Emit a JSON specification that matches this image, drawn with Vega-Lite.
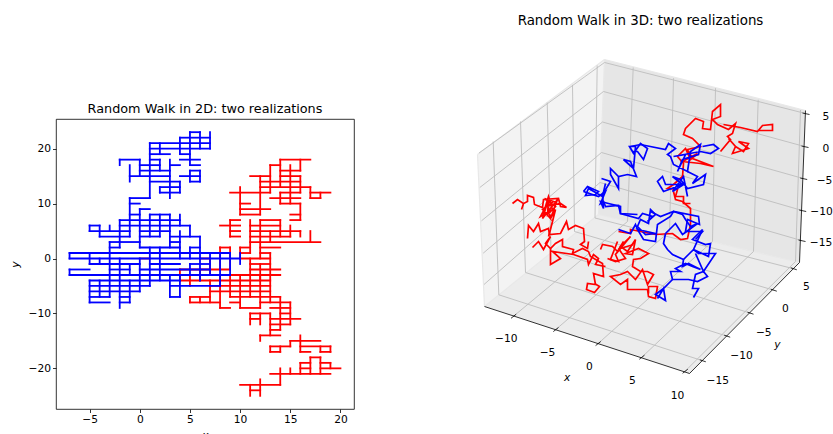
{"$schema":"https://vega.github.io/schema/vega-lite/v6.json","background":"white","padding":{"left":8,"top":13,"right":0,"bottom":0},"bounds":"flush","spacing":116.5,"config":{"view":{"stroke":"black","strokeWidth":0.8},"font":"DejaVu Sans","title":{"font":"DejaVu Sans","fontSize":12.8,"fontWeight":"normal","color":"black"},"axis":{"labelFont":"DejaVu Sans","titleFont":"DejaVu Sans","labelFontSize":10.67,"titleFontSize":10.67,"titleFontStyle":"italic","titleFontWeight":"normal","labelColor":"black","titleColor":"black","tickColor":"black","tickSize":3.5,"tickWidth":0.8,"domain":false,"grid":false,"labelFlush":false}},
"datasets":{
"rh":[{"y":18,"a":14,"b":17},{"y":17,"a":13,"b":14},{"y":16,"a":14,"b":16},{"y":15,"a":11,"b":13},{"y":15,"a":14,"b":16},{"y":14,"a":12,"b":16},{"y":13,"a":12,"b":17},{"y":12,"a":9,"b":13},{"y":12,"a":14,"b":16},{"y":12,"a":17,"b":19},{"y":11,"a":13,"b":16},{"y":11,"a":17,"b":18},{"y":10,"a":10,"b":11},{"y":10,"a":14,"b":16},{"y":9,"a":10,"b":13},{"y":8,"a":10,"b":12},{"y":8,"a":15,"b":16},{"y":7,"a":9,"b":10},{"y":7,"a":12,"b":14},{"y":7,"a":15,"b":16},{"y":6,"a":8,"b":10},{"y":6,"a":11,"b":14},{"y":5,"a":9,"b":10},{"y":5,"a":11,"b":16},{"y":4,"a":9,"b":10},{"y":4,"a":11,"b":15},{"y":3,"a":11,"b":18},{"y":2,"a":8,"b":9},{"y":2,"a":10,"b":11},{"y":2,"a":12,"b":14},{"y":1,"a":10,"b":11},{"y":1,"a":12,"b":13},{"y":0,"a":0,"b":1},{"y":0,"a":6,"b":7},{"y":0,"a":10,"b":13},{"y":-1,"a":11,"b":13},{"y":-2,"a":4,"b":9},{"y":-2,"a":11,"b":14},{"y":-3,"a":4,"b":14},{"y":-4,"a":4,"b":13},{"y":-5,"a":7,"b":13},{"y":-6,"a":7,"b":13},{"y":-7,"a":5,"b":7},{"y":-7,"a":9,"b":14},{"y":-8,"a":5,"b":8},{"y":-8,"a":9,"b":10},{"y":-8,"a":12,"b":15},{"y":-9,"a":8,"b":9},{"y":-9,"a":10,"b":12},{"y":-9,"a":13,"b":15},{"y":-10,"a":11,"b":13},{"y":-10,"a":14,"b":15},{"y":-11,"a":11,"b":12},{"y":-11,"a":13,"b":16},{"y":-12,"a":13,"b":15},{"y":-13,"a":13,"b":14},{"y":-14,"a":12,"b":14},{"y":-15,"a":15,"b":18},{"y":-16,"a":13,"b":15},{"y":-16,"a":16,"b":19},{"y":-17,"a":13,"b":14},{"y":-17,"a":16,"b":17},{"y":-17,"a":18,"b":19},{"y":-18,"a":17,"b":18},{"y":-19,"a":16,"b":17},{"y":-19,"a":18,"b":19},{"y":-20,"a":16,"b":17},{"y":-20,"a":18,"b":20},{"y":-21,"a":13,"b":19},{"y":-23,"a":10,"b":14},{"y":-24,"a":11,"b":12}],
"rv":[{"x":4,"a":-4,"b":-2},{"x":5,"a":-8,"b":-7},{"x":5,"a":-5,"b":-3},{"x":6,"a":-8,"b":-7},{"x":6,"a":-4,"b":-2},{"x":7,"a":-8,"b":-4},{"x":7,"a":-3,"b":0},{"x":8,"a":-9,"b":-3},{"x":8,"a":-2,"b":2},{"x":9,"a":-7,"b":-3},{"x":9,"a":-2,"b":2},{"x":9,"a":4,"b":7},{"x":10,"a":-9,"b":-3},{"x":10,"a":0,"b":2},{"x":10,"a":8,"b":13},{"x":11,"a":-12,"b":-10},{"x":11,"a":-7,"b":-3},{"x":11,"a":1,"b":7},{"x":11,"a":-3,"b":0},{"x":11,"a":-25,"b":-23},{"x":12,"a":8,"b":15},{"x":12,"a":0,"b":7},{"x":12,"a":-4,"b":-1},{"x":12,"a":-9,"b":-3},{"x":12,"a":-12,"b":-10},{"x":12,"a":-15,"b":-14},{"x":12,"a":-25,"b":-22},{"x":13,"a":12,"b":17},{"x":13,"a":3,"b":5},{"x":13,"a":-3,"b":1},{"x":13,"a":-8,"b":-3},{"x":13,"a":-14,"b":-10},{"x":13,"a":-17,"b":-16},{"x":14,"a":13,"b":18},{"x":14,"a":10,"b":12},{"x":14,"a":4,"b":7},{"x":14,"a":-13,"b":-7},{"x":14,"a":-17,"b":-16},{"x":14,"a":-23,"b":-20},{"x":15,"a":10,"b":17},{"x":15,"a":4,"b":6},{"x":15,"a":-12,"b":-8},{"x":15,"a":-16,"b":-15},{"x":15,"a":-21,"b":-20},{"x":16,"a":16,"b":18},{"x":16,"a":12,"b":15},{"x":16,"a":7,"b":10},{"x":16,"a":4,"b":5},{"x":16,"a":-17,"b":-14},{"x":16,"a":-21,"b":-19},{"x":17,"a":11,"b":13},{"x":17,"a":3,"b":5},{"x":17,"a":-21,"b":-18},{"x":18,"a":11,"b":12},{"x":18,"a":-17,"b":-16},{"x":18,"a":-21,"b":-18},{"x":19,"a":-17,"b":-16},{"x":19,"a":-20,"b":-19}],
"bh":[{"y":23,"a":5,"b":6},{"y":22,"a":4,"b":7},{"y":21,"a":1,"b":7},{"y":20,"a":1,"b":7},{"y":19,"a":1,"b":3},{"y":19,"a":4,"b":5},{"y":18,"a":-2,"b":0},{"y":18,"a":1,"b":2},{"y":18,"a":4,"b":6},{"y":17,"a":0,"b":2},{"y":17,"a":3,"b":4},{"y":17,"a":5,"b":6},{"y":16,"a":0,"b":3},{"y":16,"a":5,"b":6},{"y":15,"a":-1,"b":3},{"y":15,"a":4,"b":6},{"y":14,"a":1,"b":4},{"y":14,"a":5,"b":6},{"y":13,"a":2,"b":4},{"y":12,"a":2,"b":4},{"y":11,"a":-1,"b":1},{"y":10,"a":-1,"b":0},{"y":9,"a":0,"b":1},{"y":8,"a":-1,"b":0},{"y":8,"a":1,"b":3},{"y":7,"a":-2,"b":4},{"y":6,"a":-5,"b":-4},{"y":6,"a":-2,"b":5},{"y":5,"a":-5,"b":-1},{"y":5,"a":0,"b":3},{"y":4,"a":-4,"b":-1},{"y":4,"a":0,"b":2},{"y":4,"a":3,"b":6},{"y":3,"a":-3,"b":-2},{"y":3,"a":-2,"b":0},{"y":3,"a":3,"b":4},{"y":2,"a":-3,"b":-2},{"y":2,"a":0,"b":4},{"y":2,"a":5,"b":6},{"y":1,"a":-7,"b":9},{"y":0,"a":-7,"b":10},{"y":-1,"a":-5,"b":0},{"y":-1,"a":1,"b":4},{"y":-1,"a":5,"b":7},{"y":-2,"a":-7,"b":-5},{"y":-2,"a":-3,"b":-1},{"y":-2,"a":0,"b":7},{"y":-3,"a":-7,"b":9},{"y":-4,"a":-5,"b":4},{"y":-5,"a":-5,"b":1},{"y":-5,"a":3,"b":8},{"y":-6,"a":-5,"b":0},{"y":-7,"a":-5,"b":-3},{"y":-7,"a":-2,"b":-1},{"y":-7,"a":3,"b":4},{"y":-8,"a":-5,"b":-3},{"y":-8,"a":-2,"b":-1}],
"bv":[{"x":-7,"a":-3,"b":-2},{"x":-7,"a":0,"b":1},{"x":-5,"a":5,"b":6},{"x":-5,"a":-1,"b":1},{"x":-5,"a":-8,"b":-4},{"x":-4,"a":4,"b":6},{"x":-4,"a":-1,"b":0},{"x":-4,"a":-7,"b":-4},{"x":-3,"a":5,"b":6},{"x":-3,"a":-7,"b":3},{"x":-2,"a":2,"b":7},{"x":-2,"a":-9,"b":0},{"x":-2,"a":17,"b":18},{"x":-1,"a":14,"b":17},{"x":-1,"a":4,"b":11},{"x":-1,"a":-3,"b":-1},{"x":-1,"a":-8,"b":-4},{"x":0,"a":15,"b":18},{"x":0,"a":2,"b":9},{"x":0,"a":-6,"b":0},{"x":1,"a":11,"b":21},{"x":1,"a":4,"b":8},{"x":1,"a":-5,"b":2},{"x":2,"a":19,"b":21},{"x":2,"a":16,"b":18},{"x":2,"a":12,"b":13},{"x":2,"a":4,"b":8},{"x":2,"a":-4,"b":2},{"x":3,"a":11,"b":18},{"x":3,"a":2,"b":8},{"x":3,"a":-7,"b":-3},{"x":4,"a":19,"b":22},{"x":4,"a":12,"b":14},{"x":4,"a":6,"b":8},{"x":4,"a":0,"b":5},{"x":4,"a":-7,"b":-3},{"x":5,"a":17,"b":23},{"x":5,"a":14,"b":16},{"x":5,"a":4,"b":6},{"x":5,"a":0,"b":2},{"x":5,"a":-3,"b":-1},{"x":6,"a":20,"b":23},{"x":6,"a":14,"b":16},{"x":6,"a":0,"b":4},{"x":6,"a":-4,"b":0},{"x":7,"a":20,"b":23},{"x":7,"a":-3,"b":1},{"x":8,"a":-5,"b":1},{"x":9,"a":-3,"b":1},{"x":10,"a":-1,"b":1}],
"panes":[{"p":"left","u":477,"v":153,"v2":153},{"p":"left","u":484,"v":147.8,"v2":305},{"p":"left","u":598,"v":62.5,"v2":213},{"p":"left","u":604,"v":58,"v2":58},{"p":"right","u":598,"v":213,"v2":213},{"p":"right","u":604,"v":58,"v2":214.4},{"p":"right","u":799,"v":107.5,"v2":261},{"p":"right","u":805,"v":109,"v2":109},{"p":"floor","u":484,"v":305,"v2":305},{"p":"floor","u":598,"v":213,"v2":342.3},{"p":"floor","u":689,"v":234.7,"v2":372},{"p":"floor","u":799,"v":261,"v2":261}],
"edges":[{"u":477,"u2":604,"v":153,"v2":58},{"u":604,"u2":805,"v":58,"v2":109},{"u":604,"u2":598,"v":58,"v2":213},{"u":598,"u2":484,"v":213,"v2":305},{"u":598,"u2":799,"v":213,"v2":261},{"u":477,"u2":484,"v":153,"v2":305}],
"grid":[{"u":478.5,"u2":604,"v":151.5,"v2":61},{"u":604,"u2":805,"v":61,"v2":112},{"u":479.3,"u2":603,"v":186,"v2":90},{"u":603,"u2":804,"v":90,"v2":145},{"u":481,"u2":602,"v":219.3,"v2":120.5},{"u":602,"u2":802.7,"v":120.5,"v2":177},{"u":482.7,"u2":601,"v":251.7,"v2":151},{"u":601,"u2":801.7,"v":151,"v2":209},{"u":483.5,"u2":599.5,"v":283,"v2":181},{"u":599.5,"u2":801,"v":181,"v2":239},{"u":492.7,"u2":498.3,"v":140,"v2":293.3},{"u":498.3,"u2":702.3,"v":293.3,"v2":359.3},{"u":520,"u2":525,"v":120,"v2":271},{"u":525,"u2":726.7,"v":271,"v2":334.7},{"u":546.7,"u2":550.5,"v":101,"v2":249},{"u":550.5,"u2":750,"v":249,"v2":311.7},{"u":572,"u2":574,"v":83.3,"v2":230},{"u":574,"u2":773.3,"v":230,"v2":288.7},{"u":596.7,"u2":594.5,"v":64,"v2":216.5},{"u":594.5,"u2":793.3,"v":216.5,"v2":267.3},{"u":512.7,"u2":627,"v":315,"v2":220},{"u":627,"u2":632.7,"v":220,"v2":66},{"u":555,"u2":669,"v":328.3,"v2":230},{"u":669,"u2":673,"v":230,"v2":76.7},{"u":597.3,"u2":712,"v":342.3,"v2":240},{"u":712,"u2":715,"v":240,"v2":86.7},{"u":641,"u2":753,"v":356,"v2":250},{"u":753,"u2":757.7,"v":250,"v2":98.3},{"u":684.3,"u2":795,"v":370,"v2":260},{"u":795,"u2":800,"v":260,"v2":108.5}],
"axes3d":[{"u":484,"u2":689,"v":305,"v2":372},{"u":689,"u2":799,"v":372,"v2":261},{"u":799,"u2":805,"v":261,"v2":109},{"u":510.5,"u2":515.7,"v":316.8,"v2":312.7},{"u":552.8,"u2":558,"v":330.1,"v2":326},{"u":595.1,"u2":600.3,"v":344.1,"v2":340},{"u":638.8,"u2":644,"v":357.8,"v2":353.7},{"u":682.1,"u2":687.3,"v":371.8,"v2":367.7},{"u":699.3,"u2":705.3,"v":358.3,"v2":360.3},{"u":723.7,"u2":729.7,"v":333.7,"v2":335.7},{"u":747,"u2":753,"v":310.7,"v2":312.7},{"u":770.3,"u2":776.3,"v":287.7,"v2":289.7},{"u":790.3,"u2":796.3,"v":266.3,"v2":268.3},{"u":802,"u2":809,"v":111.5,"v2":113},{"u":801,"u2":808,"v":144.5,"v2":146},{"u":799.7,"u2":806.7,"v":176.5,"v2":178},{"u":798.7,"u2":805.7,"v":208.5,"v2":210},{"u":798,"u2":805,"v":238.5,"v2":240}],
"labels3d":[{"t":"−10","u":505.7,"v":337},{"t":"−5","u":547,"v":351},{"t":"0","u":589,"v":365},{"t":"5","u":632,"v":379},{"t":"10","u":677,"v":394},{"t":"−15","u":717.3,"v":379.3},{"t":"−10","u":741,"v":354.3},{"t":"−5","u":763.3,"v":331},{"t":"0","u":785,"v":307.7},{"t":"5","u":806,"v":285.3},{"t":"5","u":825.5,"v":115},{"t":"0","u":825.5,"v":147},{"t":"−5","u":824,"v":179},{"t":"−10","u":821,"v":210},{"t":"−15","u":820.5,"v":241}],
"names3d":[{"t":"x","u":566.7,"v":376.7},{"t":"y","u":777,"v":343.3}],
"walks":[
{"w":"red","s":1,"u":512,"v":202},{"w":"red","s":1,"u":517,"v":198},{"w":"red","s":1,"u":523,"v":202},{"w":"red","s":1,"u":521,"v":208},{"w":"red","s":1,"u":523,"v":202},{"w":"red","s":1,"u":527,"v":200},{"w":"red","s":1,"u":527,"v":194},{"w":"red","s":1,"u":533,"v":196},{"w":"red","s":1,"u":534,"v":203},{"w":"red","s":1,"u":542,"v":206},{"w":"red","s":1,"u":543,"v":198},{"w":"red","s":1,"u":558,"v":197},{"w":"red","s":1,"u":560,"v":205},{"w":"red","s":1,"u":566,"v":206},{"w":"red","s":1,"u":560,"v":202},{"w":"red","s":1,"u":545,"v":205},{"w":"red","s":1,"u":548,"v":195},{"w":"red","s":1,"u":552,"v":208},{"w":"red","s":1,"u":540,"v":215},{"w":"red","s":1,"u":547,"v":202},{"w":"red","s":1,"u":550,"v":217},{"w":"red","s":1,"u":542,"v":208},{"w":"red","s":1,"u":553,"v":200},{"w":"red","s":1,"u":544,"v":197},{"w":"red","s":1,"u":555,"v":205},{"w":"red","s":1,"u":547,"v":213},{"w":"red","s":1,"u":548,"v":198},{"w":"red","s":1,"u":542,"v":217},{"w":"red","s":1,"u":557,"v":198},{"w":"red","s":1,"u":550,"v":217},{"w":"red","s":1,"u":555,"v":208},{"w":"red","s":1,"u":550,"v":228},{"w":"red","s":1,"u":548,"v":235},
{"w":"red","s":2,"u":527,"v":237},{"w":"red","s":2,"u":528,"v":224},{"w":"red","s":2,"u":533,"v":230},{"w":"red","s":2,"u":538,"v":222},{"w":"red","s":2,"u":540,"v":230},{"w":"red","s":2,"u":548,"v":227},{"w":"red","s":2,"u":549,"v":233},{"w":"red","s":2,"u":560,"v":232},{"w":"red","s":2,"u":566,"v":220},{"w":"red","s":2,"u":568,"v":228},{"w":"red","s":2,"u":575,"v":224},{"w":"red","s":2,"u":583,"v":227},{"w":"red","s":2,"u":584,"v":240},{"w":"red","s":2,"u":580,"v":243},{"w":"red","s":2,"u":587,"v":247},{"w":"red","s":2,"u":588,"v":240},
{"w":"red","s":3,"u":532,"v":246},{"w":"red","s":3,"u":538,"v":240},{"w":"red","s":3,"u":543,"v":248},{"w":"red","s":3,"u":550,"v":235},{"w":"red","s":3,"u":545,"v":242},{"w":"red","s":3,"u":550,"v":247},{"w":"red","s":3,"u":555,"v":242},{"w":"red","s":3,"u":562,"v":238},{"w":"red","s":3,"u":562,"v":245},{"w":"red","s":3,"u":573,"v":248},{"w":"red","s":3,"u":572,"v":252},{"w":"red","s":3,"u":582,"v":247},{"w":"red","s":3,"u":588,"v":250},{"w":"red","s":3,"u":590,"v":255},{"w":"red","s":3,"u":602,"v":262},{"w":"red","s":3,"u":603,"v":275},{"w":"red","s":3,"u":593,"v":272},{"w":"red","s":3,"u":595,"v":283},{"w":"red","s":3,"u":587,"v":282},{"w":"red","s":3,"u":586,"v":288},{"w":"red","s":3,"u":594,"v":291},{"w":"red","s":3,"u":599,"v":285},{"w":"red","s":3,"u":594,"v":282},
{"w":"red","s":4,"u":550,"v":247},{"w":"red","s":4,"u":550,"v":263},{"w":"red","s":4,"u":560,"v":257},{"w":"red","s":4,"u":552,"v":250},{"w":"red","s":4,"u":573,"v":253},{"w":"red","s":4,"u":587,"v":258},{"w":"red","s":4,"u":588,"v":263},{"w":"red","s":4,"u":593,"v":253},{"w":"red","s":4,"u":598,"v":257},{"w":"red","s":4,"u":595,"v":263},{"w":"red","s":4,"u":605,"v":265},
{"w":"red","s":5,"u":600,"v":248},{"w":"red","s":5,"u":602,"v":243},{"w":"red","s":5,"u":612,"v":245},{"w":"red","s":5,"u":617,"v":250},{"w":"red","s":5,"u":623,"v":240},{"w":"red","s":5,"u":620,"v":247},{"w":"red","s":5,"u":633,"v":243},
{"w":"red","s":6,"u":607,"v":257},{"w":"red","s":6,"u":615,"v":260},{"w":"red","s":6,"u":625,"v":257},{"w":"red","s":6,"u":618,"v":247},
{"w":"red","s":8,"u":617,"v":240},{"w":"red","s":8,"u":610,"v":258},{"w":"red","s":8,"u":618,"v":260},{"w":"red","s":8,"u":615,"v":253},{"w":"red","s":8,"u":630,"v":235},{"w":"red","s":8,"u":620,"v":245},{"w":"red","s":8,"u":627,"v":250},{"w":"red","s":8,"u":635,"v":238},{"w":"red","s":8,"u":632,"v":253},{"w":"red","s":8,"u":625,"v":252},{"w":"red","s":8,"u":638,"v":247},{"w":"red","s":8,"u":648,"v":252},{"w":"red","s":8,"u":640,"v":257},{"w":"red","s":8,"u":633,"v":258},{"w":"red","s":8,"u":632,"v":265},{"w":"red","s":8,"u":640,"v":270},{"w":"red","s":8,"u":647,"v":270},{"w":"red","s":8,"u":653,"v":273},{"w":"red","s":8,"u":647,"v":283},{"w":"red","s":8,"u":642,"v":268},{"w":"red","s":8,"u":635,"v":278},{"w":"red","s":8,"u":627,"v":270},{"w":"red","s":8,"u":620,"v":273},{"w":"red","s":8,"u":610,"v":275},{"w":"red","s":8,"u":620,"v":283},{"w":"red","s":8,"u":627,"v":278},{"w":"red","s":8,"u":627,"v":288},{"w":"red","s":8,"u":647,"v":288},{"w":"red","s":8,"u":648,"v":295},{"w":"red","s":8,"u":655,"v":297},{"w":"red","s":8,"u":657,"v":285},{"w":"red","s":8,"u":648,"v":285},{"w":"red","s":8,"u":648,"v":292},
{"w":"red","s":9,"u":618,"v":230},{"w":"red","s":9,"u":630,"v":232},{"w":"red","s":9,"u":630,"v":228},{"w":"red","s":9,"u":655,"v":233},{"w":"red","s":9,"u":672,"v":232},{"w":"red","s":9,"u":680,"v":238},{"w":"red","s":9,"u":687,"v":237},{"w":"red","s":9,"u":690,"v":223},{"w":"red","s":9,"u":690,"v":207},{"w":"red","s":9,"u":682,"v":200},{"w":"red","s":9,"u":675,"v":198},{"w":"red","s":9,"u":673,"v":190},
{"w":"red","s":10,"u":690,"v":202},{"w":"red","s":10,"u":683,"v":202},{"w":"red","s":10,"u":683,"v":195},{"w":"red","s":10,"u":675,"v":195},{"w":"red","s":10,"u":677,"v":188},{"w":"red","s":10,"u":667,"v":187},{"w":"red","s":10,"u":673,"v":183},{"w":"red","s":10,"u":682,"v":175},{"w":"red","s":10,"u":683,"v":162},{"w":"red","s":10,"u":677,"v":155},{"w":"red","s":10,"u":685,"v":147},{"w":"red","s":10,"u":690,"v":158},{"w":"red","s":10,"u":697,"v":152},{"w":"red","s":10,"u":682,"v":160},{"w":"red","s":10,"u":700,"v":162},{"w":"red","s":10,"u":713,"v":165},{"w":"red","s":10,"u":692,"v":157},{"w":"red","s":10,"u":687,"v":148},{"w":"red","s":10,"u":700,"v":145},{"w":"red","s":10,"u":692,"v":137},{"w":"red","s":10,"u":683,"v":133},{"w":"red","s":10,"u":685,"v":127},{"w":"red","s":10,"u":695,"v":117},{"w":"red","s":10,"u":703,"v":120},{"w":"red","s":10,"u":702,"v":127},{"w":"red","s":10,"u":710,"v":128},{"w":"red","s":10,"u":712,"v":110},{"w":"red","s":10,"u":720,"v":103},{"w":"red","s":10,"u":720,"v":115},{"w":"red","s":10,"u":712,"v":118},{"w":"red","s":10,"u":717,"v":123},{"w":"red","s":10,"u":728,"v":128},{"w":"red","s":10,"u":735,"v":122},{"w":"red","s":10,"u":732,"v":132},{"w":"red","s":10,"u":727,"v":135},{"w":"red","s":10,"u":730,"v":138},{"w":"red","s":10,"u":720,"v":150},
{"w":"red","s":11,"u":728,"v":137},{"w":"red","s":11,"u":735,"v":145},{"w":"red","s":11,"u":732,"v":152},{"w":"red","s":11,"u":748,"v":147},{"w":"red","s":11,"u":738,"v":140},{"w":"red","s":11,"u":748,"v":142},{"w":"red","s":11,"u":743,"v":150},{"w":"red","s":11,"u":735,"v":145},
{"w":"red","s":12,"u":723,"v":123},{"w":"red","s":12,"u":740,"v":126},{"w":"red","s":12,"u":757,"v":130},{"w":"red","s":12,"u":762,"v":124},{"w":"red","s":12,"u":772,"v":123},{"w":"red","s":12,"u":772,"v":129},{"w":"red","s":12,"u":757,"v":129},
{"w":"blue","s":21,"u":629,"v":145},{"w":"blue","s":21,"u":633,"v":152},{"w":"blue","s":21,"u":640,"v":142},{"w":"blue","s":21,"u":647,"v":147},{"w":"blue","s":21,"u":643,"v":158},{"w":"blue","s":21,"u":637,"v":150},{"w":"blue","s":21,"u":632,"v":150},{"w":"blue","s":21,"u":629,"v":145},{"w":"blue","s":21,"u":635,"v":145},{"w":"blue","s":21,"u":633,"v":167},{"w":"blue","s":21,"u":623,"v":158},{"w":"blue","s":21,"u":630,"v":160},{"w":"blue","s":21,"u":636,"v":175},{"w":"blue","s":21,"u":627,"v":173},{"w":"blue","s":21,"u":618,"v":175},{"w":"blue","s":21,"u":610,"v":167},{"w":"blue","s":21,"u":610,"v":173},{"w":"blue","s":21,"u":618,"v":187},{"w":"blue","s":21,"u":618,"v":175},
{"w":"blue","s":22,"u":601,"v":177},{"w":"blue","s":22,"u":610,"v":180},{"w":"blue","s":22,"u":602,"v":193},{"w":"blue","s":22,"u":603,"v":207},{"w":"blue","s":22,"u":600,"v":200},{"w":"blue","s":22,"u":608,"v":202},{"w":"blue","s":22,"u":620,"v":205},{"w":"blue","s":22,"u":620,"v":212},{"w":"blue","s":22,"u":637,"v":213},
{"w":"blue","s":23,"u":583,"v":190},{"w":"blue","s":23,"u":587,"v":185},{"w":"blue","s":23,"u":598,"v":190},{"w":"blue","s":23,"u":595,"v":193},{"w":"blue","s":23,"u":585,"v":194},{"w":"blue","s":23,"u":588,"v":187},{"w":"blue","s":23,"u":602,"v":195},{"w":"blue","s":23,"u":605,"v":182},
{"w":"blue","s":24,"u":630,"v":145},{"w":"blue","s":24,"u":640,"v":143},{"w":"blue","s":24,"u":665,"v":148},{"w":"blue","s":24,"u":668,"v":142},{"w":"blue","s":24,"u":675,"v":147},{"w":"blue","s":24,"u":667,"v":153},{"w":"blue","s":24,"u":670,"v":155},{"w":"blue","s":24,"u":673,"v":163},{"w":"blue","s":24,"u":687,"v":170},{"w":"blue","s":24,"u":690,"v":150},{"w":"blue","s":24,"u":700,"v":143},{"w":"blue","s":24,"u":698,"v":153},{"w":"blue","s":24,"u":682,"v":158},{"w":"blue","s":24,"u":677,"v":170},{"w":"blue","s":24,"u":685,"v":153},{"w":"blue","s":24,"u":673,"v":155},{"w":"blue","s":24,"u":700,"v":150},{"w":"blue","s":24,"u":710,"v":152},{"w":"blue","s":24,"u":718,"v":147},{"w":"blue","s":24,"u":713,"v":143},{"w":"blue","s":24,"u":702,"v":145},
{"w":"blue","s":25,"u":687,"v":170},{"w":"blue","s":25,"u":697,"v":175},{"w":"blue","s":25,"u":692,"v":182},{"w":"blue","s":25,"u":705,"v":173},{"w":"blue","s":25,"u":703,"v":183},{"w":"blue","s":25,"u":687,"v":187},{"w":"blue","s":25,"u":680,"v":178},{"w":"blue","s":25,"u":672,"v":175},{"w":"blue","s":25,"u":682,"v":183},{"w":"blue","s":25,"u":663,"v":190},{"w":"blue","s":25,"u":657,"v":180},{"w":"blue","s":25,"u":662,"v":175},{"w":"blue","s":25,"u":665,"v":183},{"w":"blue","s":25,"u":683,"v":183},{"w":"blue","s":25,"u":672,"v":190},{"w":"blue","s":25,"u":683,"v":175},{"w":"blue","s":25,"u":687,"v":195},
{"w":"blue","s":26,"u":650,"v":210},{"w":"blue","s":26,"u":660,"v":215},{"w":"blue","s":26,"u":673,"v":210},{"w":"blue","s":26,"u":698,"v":215},{"w":"blue","s":26,"u":699,"v":223},{"w":"blue","s":26,"u":687,"v":218},{"w":"blue","s":26,"u":685,"v":230},{"w":"blue","s":26,"u":702,"v":230},{"w":"blue","s":26,"u":695,"v":238},
{"w":"blue","s":27,"u":583,"v":190},{"w":"blue","s":27,"u":598,"v":195},{"w":"blue","s":27,"u":605,"v":190},{"w":"blue","s":27,"u":600,"v":202},{"w":"blue","s":27,"u":603,"v":200},{"w":"blue","s":27,"u":605,"v":205},{"w":"blue","s":27,"u":618,"v":204},{"w":"blue","s":27,"u":620,"v":212},{"w":"blue","s":27,"u":638,"v":217},{"w":"blue","s":27,"u":642,"v":212},{"w":"blue","s":27,"u":652,"v":215},{"w":"blue","s":27,"u":647,"v":220},{"w":"blue","s":27,"u":655,"v":213},{"w":"blue","s":27,"u":650,"v":208},{"w":"blue","s":27,"u":648,"v":222},{"w":"blue","s":27,"u":640,"v":218},{"w":"blue","s":27,"u":637,"v":225},{"w":"blue","s":27,"u":645,"v":233},{"w":"blue","s":27,"u":655,"v":232},{"w":"blue","s":27,"u":637,"v":228},{"w":"blue","s":27,"u":643,"v":238},{"w":"blue","s":27,"u":655,"v":240},{"w":"blue","s":27,"u":657,"v":223},{"w":"blue","s":27,"u":670,"v":215},{"w":"blue","s":27,"u":673,"v":210},{"w":"blue","s":27,"u":682,"v":213},{"w":"blue","s":27,"u":685,"v":218},{"w":"blue","s":27,"u":690,"v":225},{"w":"blue","s":27,"u":697,"v":222},{"w":"blue","s":27,"u":682,"v":233},{"w":"blue","s":27,"u":675,"v":222},{"w":"blue","s":27,"u":665,"v":232},
{"w":"blue","s":28,"u":618,"v":228},{"w":"blue","s":28,"u":630,"v":232},{"w":"blue","s":28,"u":635,"v":223},{"w":"blue","s":28,"u":637,"v":228},
{"w":"blue","s":29,"u":665,"v":232},{"w":"blue","s":29,"u":663,"v":242},{"w":"blue","s":29,"u":667,"v":248},{"w":"blue","s":29,"u":672,"v":253},{"w":"blue","s":29,"u":683,"v":258},{"w":"blue","s":29,"u":688,"v":253},{"w":"blue","s":29,"u":693,"v":248},{"w":"blue","s":29,"u":702,"v":228},{"w":"blue","s":29,"u":692,"v":238},{"w":"blue","s":29,"u":705,"v":243},{"w":"blue","s":29,"u":710,"v":242},{"w":"blue","s":29,"u":708,"v":255},{"w":"blue","s":29,"u":693,"v":248},{"w":"blue","s":29,"u":698,"v":252},{"w":"blue","s":29,"u":715,"v":252},{"w":"blue","s":29,"u":703,"v":270},{"w":"blue","s":29,"u":695,"v":252},
{"w":"blue","s":30,"u":683,"v":258},{"w":"blue","s":30,"u":682,"v":265},{"w":"blue","s":30,"u":688,"v":262},{"w":"blue","s":30,"u":700,"v":268},{"w":"blue","s":30,"u":692,"v":265},{"w":"blue","s":30,"u":685,"v":262},{"w":"blue","s":30,"u":675,"v":267},{"w":"blue","s":30,"u":680,"v":270},{"w":"blue","s":30,"u":670,"v":270},{"w":"blue","s":30,"u":672,"v":278},{"w":"blue","s":30,"u":688,"v":278},{"w":"blue","s":30,"u":697,"v":280},{"w":"blue","s":30,"u":707,"v":275},{"w":"blue","s":30,"u":703,"v":270},{"w":"blue","s":30,"u":695,"v":273},{"w":"blue","s":30,"u":692,"v":287},{"w":"blue","s":30,"u":698,"v":287},{"w":"blue","s":30,"u":693,"v":296},
{"w":"blue","s":31,"u":672,"v":278},{"w":"blue","s":31,"u":663,"v":287},{"w":"blue","s":31,"u":655,"v":293},{"w":"blue","s":31,"u":665,"v":299},{"w":"blue","s":31,"u":663,"v":287},{"w":"blue","s":31,"u":657,"v":297}
]},
"hconcat":[
{"width":298,"height":290,"title":{"text":"Random Walk in 2D: two realizations","offset":3},
"layer":[
{"data":{"name":"rh"},"mark":{"type":"rule","color":"#ff0000","strokeWidth":1.8,"strokeCap":"square"},"encoding":{"x":{"field":"a","type":"quantitative","scale":{"domain":[-8.35,21.35],"nice":false,"zero":false},"axis":{"values":[-5,0,5,10,15,20],"title":"x","titlePadding":6}},"x2":{"field":"b"},"y":{"field":"y","type":"quantitative","scale":{"domain":[-27.4,25.4],"nice":false,"zero":false},"axis":{"values":[-20,-10,0,10,20],"title":"y","titlePadding":8}}}},
{"data":{"name":"rv"},"mark":{"type":"rule","color":"#ff0000","strokeWidth":1.8,"strokeCap":"square"},"encoding":{"x":{"field":"x","type":"quantitative"},"y":{"field":"a","type":"quantitative"},"y2":{"field":"b"}}},
{"data":{"name":"bh"},"mark":{"type":"rule","color":"#0000ff","strokeWidth":1.8,"strokeCap":"square"},"encoding":{"x":{"field":"a","type":"quantitative"},"x2":{"field":"b"},"y":{"field":"y","type":"quantitative"}}},
{"data":{"name":"bv"},"mark":{"type":"rule","color":"#0000ff","strokeWidth":1.8,"strokeCap":"square"},"encoding":{"x":{"field":"x","type":"quantitative"},"y":{"field":"a","type":"quantitative"},"y2":{"field":"b"}}}
]},
{"width":340,"height":290,"view":{"stroke":null},"title":{"text":"Random Walk in 3D: two realizations","offset":32,"fontSize":13.4},
"encoding":{"x":{"field":"u","type":"quantitative","scale":{"domain":[470,810],"nice":false,"zero":false},"axis":null},"y":{"field":"v","type":"quantitative","scale":{"domain":[407.5,117.5],"nice":false,"zero":false},"axis":null}},
"layer":[
{"data":{"name":"panes"},"mark":{"type":"area","line":false},"encoding":{"y2":{"field":"v2"},"color":{"field":"p","type":"nominal","scale":{"domain":["left","right","floor"],"range":["#f3f3f3","#e6e6e6","#ececec"]},"legend":null}}},
{"data":{"name":"edges"},"mark":{"type":"rule","color":"#e8e8e8","strokeWidth":1.2},"encoding":{"x2":{"field":"u2"},"y2":{"field":"v2"}}},
{"data":{"name":"grid"},"mark":{"type":"rule","color":"#bdbdbd","strokeWidth":0.9},"encoding":{"x2":{"field":"u2"},"y2":{"field":"v2"}}},
{"data":{"name":"axes3d"},"mark":{"type":"rule","color":"black","strokeWidth":0.8},"encoding":{"x2":{"field":"u2"},"y2":{"field":"v2"}}},
{"data":{"name":"labels3d"},"mark":{"type":"text","fontSize":10.67,"font":"DejaVu Sans","color":"black"},"encoding":{"text":{"field":"t"}}},
{"data":{"name":"names3d"},"mark":{"type":"text","fontSize":10.67,"font":"DejaVu Sans","fontStyle":"italic","color":"black"},"encoding":{"text":{"field":"t"}}},
{"data":{"name":"walks"},"transform":[{"window":[{"op":"row_number","as":"i"}]}],"mark":{"type":"line","strokeWidth":1.7,"strokeJoin":"miter"},"encoding":{"detail":{"field":"s"},"order":{"field":"i","type":"quantitative"},"stroke":{"field":"w","type":"nominal","scale":{"domain":["red","blue"],"range":["#ff0000","#0000ff"]},"legend":null}}}
]}
]}
